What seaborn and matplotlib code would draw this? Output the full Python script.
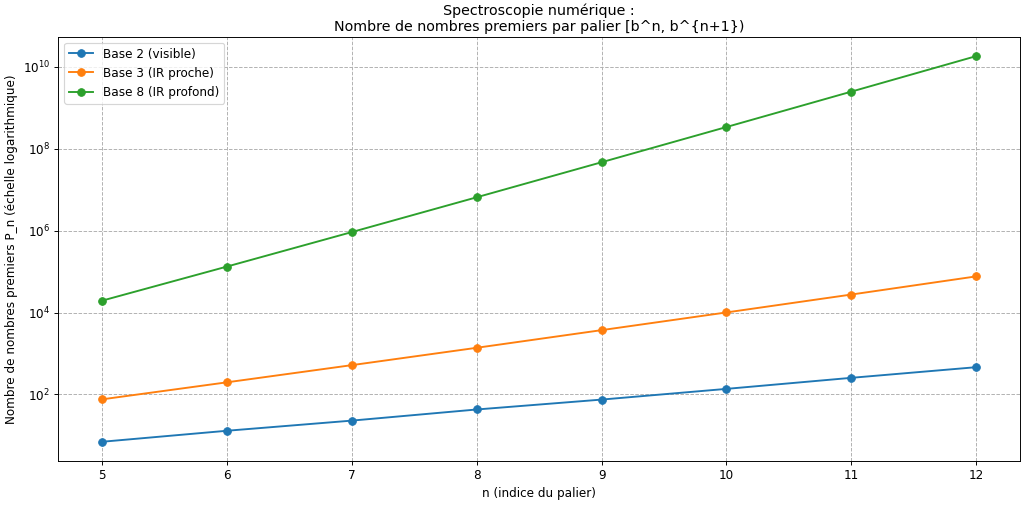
import matplotlib
matplotlib.use("Agg")
import matplotlib.pyplot as plt
import pandas as pd
import seaborn as sns

# Paliers n et nombres de premiers dans [b^n, b^{n+1})
paliers = [5, 6, 7, 8, 9, 10, 11, 12]
base2 = [7, 13, 23, 43, 75, 137, 255, 464]
base3 = [76, 198, 520, 1380, 3722, 10071, 27555, 76500]
base8 = [19488, 132611, 922260, 6525682, 46796475, 339215778,
         2480782709, 18277509435]
labels = ["Base 2 (visible)", "Base 3 (IR proche)", "Base 8 (IR profond)"]

df = pd.DataFrame({
    "n": paliers * 3,
    "P": base2 + base3 + base8,
    "serie": [labels[0]] * 8 + [labels[1]] * 8 + [labels[2]] * 8,
})

fig, ax = plt.subplots(figsize=(12, 5.93), dpi=85.17)
sns.lineplot(data=df, x="n", y="P", hue="serie", marker="o",
             markeredgecolor=None, markersize=6.5, linewidth=1.6,
             palette=["#1f77b4", "#ff7f0e", "#2ca02c"], ax=ax)
ax.set_yscale("log")
ax.set_title("Spectroscopie numérique :\nNombre de nombres premiers par palier [b^n, b^{n+1})",
             fontsize=12.1, pad=5)
ax.set_xlabel("n (indice du palier)", fontsize=10.2)
ax.set_ylabel("Nombre de nombres premiers P_n (échelle logarithmique)", fontsize=10.2)
ax.tick_params(labelsize=10.2)
ax.grid(True, which="major", linestyle="--")
ax.legend(loc="upper left", fontsize=10.2)
fig.subplots_adjust(left=0.057, right=0.998, top=0.927, bottom=0.087)
fig.savefig("out.png", dpi=85.17)
